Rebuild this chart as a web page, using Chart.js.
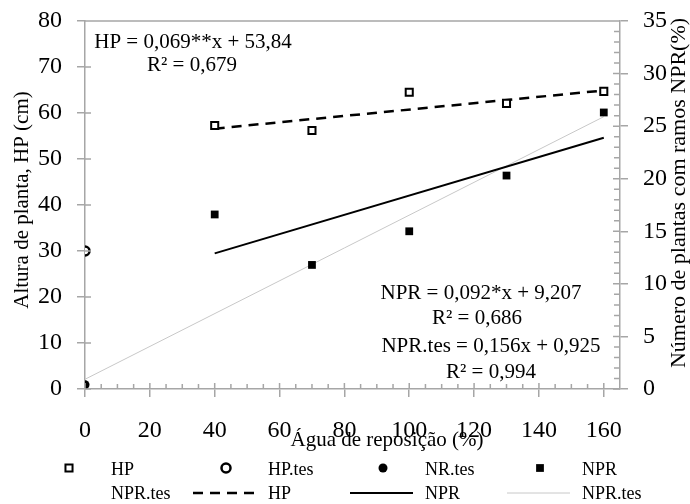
<!DOCTYPE html>
<html lang="pt">
<head>
<meta charset="utf-8">
<title>Altura de planta e NPR</title>
<script src="https://cdn.jsdelivr.net/npm/chart.js@4.4.1/dist/chart.umd.min.js"></script>
<style>
    html, body { margin: 0; padding: 0; background: #fff; }
    canvas { display: block; }
</style>
</head>
<body>
<canvas id="myChart" width="690" height="504"></canvas>
<script>
// Água de reposição (%)
const agua = [40, 70, 100, 130, 160];
// Altura de planta, HP (cm)
const hp = [57.3, 56.2, 64.5, 62.1, 64.7];
// Número de plantas com ramos, NPR (%)
const npr = [16.6, 11.8, 15.0, 20.3, 26.3];

// testemunha (sem reposição)
const aguaTes = [0];
const hpTes = [30];
const nrTes = [0.4];

// extremos das retas ajustadas
const retaX = [40, 160];
const retaHp = [56.6, 64.9];
const retaNpr = [12.9, 23.9];
const retaTesX = [0, 160];
const retaNprTes = [0.925, 25.9];

const equacoesHp = ['HP = 0,069**x + 53,84', 'R² = 0,679'];
const equacoesNpr = ['NPR = 0,092*x + 9,207', 'R² = 0,686', 'NPR.tes = 0,156x + 0,925', 'R² = 0,994'];

const SERIF = "'Liberation Serif', 'Times New Roman', serif";
const EIXO = '#a6a6a6';

const pontos = (xs, ys) => xs.map((v, i) => ({x: v, y: ys[i]}));

// marcas internas, secundárias e borda superior
const marcasPlugin = {
    id: 'marcas',
    afterDraw(chart) {
        const c = chart.ctx;
        const a = chart.chartArea;
        const sx = chart.scales.x;
        const sy = chart.scales.y;
        const sy1 = chart.scales.y1;
        c.save();
        c.strokeStyle = EIXO;
        c.lineWidth = 1.5;
        c.setLineDash([]);
        c.beginPath();
        c.moveTo(a.left, a.top);
        c.lineTo(a.right, a.top);
        for (let v = 0; v <= 160; v += 5) {
            const px = sx.getPixelForValue(v);
            c.moveTo(px, a.bottom);
            c.lineTo(px, a.bottom - (v % 20 === 0 ? 6 : 5));
        }
        for (let v = 0; v <= 80; v += 10) {
            const py = sy.getPixelForValue(v);
            c.moveTo(a.left, py);
            c.lineTo(a.left + 6, py);
        }
        for (let v = 0; v <= 35; v += 1) {
            const py = sy1.getPixelForValue(v);
            c.moveTo(a.right, py);
            c.lineTo(a.right - (v % 5 === 0 ? 7 : 6), py);
        }
        c.stroke();
        c.restore();
    }
};

// títulos, equações e legenda
const textosPlugin = {
    id: 'textos',
    afterDraw(chart) {
        const c = chart.ctx;
        c.save();
        c.fillStyle = '#000';
        c.textAlign = 'center';
        c.textBaseline = 'middle';

        c.font = '21px ' + SERIF;
        c.fillText('Água de reposição (%)', 387, 440);

        c.save();
        c.translate(22, 200);
        c.rotate(-Math.PI / 2);
        c.fillText('Altura de planta, HP (cm)', 0, 0);
        c.restore();

        c.save();
        c.font = '22px ' + SERIF;
        c.translate(679, 193);
        c.rotate(-Math.PI / 2);
        c.fillText('Número de plantas com ramos NPR(%)', 0, 0);
        c.restore();

        // equações de regressão
        c.font = '21px ' + SERIF;
        c.fillText(equacoesHp[0], 193, 42);
        c.fillText(equacoesHp[1], 192, 65);
        const posNpr = [[481, 293], [477, 318], [491, 346], [491, 372]];
        equacoesNpr.forEach((t, i) => c.fillText(t, posNpr[i][0], posNpr[i][1]));

        // legenda em grade de 4 colunas
        c.font = '18px ' + SERIF;
        c.textAlign = 'left';
        chart.data.datasets.forEach((ds, i) => {
            const tx = 111 + 157 * (i % 4);
            const ty = 470 + 24 * Math.floor(i / 4);
            if (ds.showLine) {
                c.save();
                c.strokeStyle = ds.borderColor;
                c.lineWidth = ds.borderWidth;
                c.setLineDash(ds.borderDash || []);
                c.beginPath();
                c.moveTo(tx - 75, ty - 1);
                c.lineTo(tx - 12, ty - 1);
                c.stroke();
                c.restore();
            } else if (ds.pointStyle) {
                c.save();
                c.fillStyle = ds.pointBackgroundColor;
                c.strokeStyle = ds.pointBorderColor;
                c.lineWidth = ds.pointBorderWidth;
                Chart.helpers.drawPoint(c, {
                    pointStyle: ds.pointStyle,
                    radius: ds.pointRadius,
                    borderWidth: ds.pointBorderWidth,
                    rotation: 0
                }, tx - 42, ty - 2);
                c.restore();
            }
            c.fillStyle = '#000';
            c.fillText(ds.label, tx, ty);
        });
        c.restore();
    }
};

const serie = (label, data, estilo, raio, fundo, borda, eixo) => ({
    label: label,
    data: data,
    yAxisID: eixo,
    showLine: false,
    pointStyle: estilo,
    pointRadius: raio,
    pointHoverRadius: raio,
    pointBackgroundColor: fundo,
    pointBorderColor: '#000',
    pointBorderWidth: borda
});

const reta = (label, data, cor, largura, traco, eixo) => ({
    label: label,
    data: data,
    yAxisID: eixo,
    showLine: true,
    pointRadius: 0,
    pointHoverRadius: 0,
    borderColor: cor,
    borderWidth: largura,
    borderDash: traco,
    fill: false
});

// eixo com linha cinza e marcas principais para fora
const eixo = (extra) => Object.assign({
    grid: {display: true, drawOnChartArea: false, drawTicks: true, tickLength: 8, color: EIXO, lineWidth: 1.5},
    border: {display: true, color: EIXO, width: 1.5}
}, extra);

const fonteTicks = {family: SERIF, size: 24};

new Chart(document.getElementById('myChart'), {
    type: 'scatter',
    data: {
        datasets: [
            serie('HP', pontos(agua, hp), 'rect', 5, '#fff', 2, 'y'),
            serie('HP.tes', pontos(aguaTes, hpTes), 'circle', 4.5, '#fff', 2.5, 'y'),
            serie('NR.tes', pontos(aguaTes, nrTes), 'circle', 4.5, '#000', 0, 'y1'),
            serie('NPR', pontos(agua, npr), 'rect', 5.5, '#000', 0, 'y1'),
            serie('NPR.tes', [], false, 0, '#000', 0, 'y1'),
            reta('HP', pontos(retaX, retaHp), '#000', 2.5, [10, 7], 'y'),
            reta('NPR', pontos(retaX, retaNpr), '#000', 2, [], 'y1'),
            reta('NPR.tes', pontos(retaTesX, retaNprTes), '#c8c8c8', 1, [], 'y1')
        ]
    },
    options: {
        responsive: false,
        animation: false,
        layout: {padding: {top: 21}},
        plugins: {
            legend: {display: false},
            tooltip: {enabled: false}
        },
        scales: {
            x: eixo({
                type: 'linear',
                min: 0,
                max: 165,
                ticks: {stepSize: 20, includeBounds: false, padding: 19, color: '#000', font: fonteTicks},
                afterFit(scale) { scale.height = 115; }
            }),
            y: eixo({
                position: 'left',
                min: 0,
                max: 80,
                ticks: {stepSize: 10, padding: 15, color: '#000', font: fonteTicks},
                afterFit(scale) {
                    scale.width = 85;
                    scale.paddingTop = 0;
                    scale.paddingBottom = 0;
                }
            }),
            y1: eixo({
                position: 'right',
                min: 0,
                max: 35,
                ticks: {stepSize: 5, padding: 15, color: '#000', font: fonteTicks},
                afterFit(scale) {
                    scale.width = 70;
                    scale.paddingTop = 0;
                    scale.paddingBottom = 0;
                }
            })
        }
    },
    plugins: [marcasPlugin, textosPlugin]
});
</script>
</body>
</html>
